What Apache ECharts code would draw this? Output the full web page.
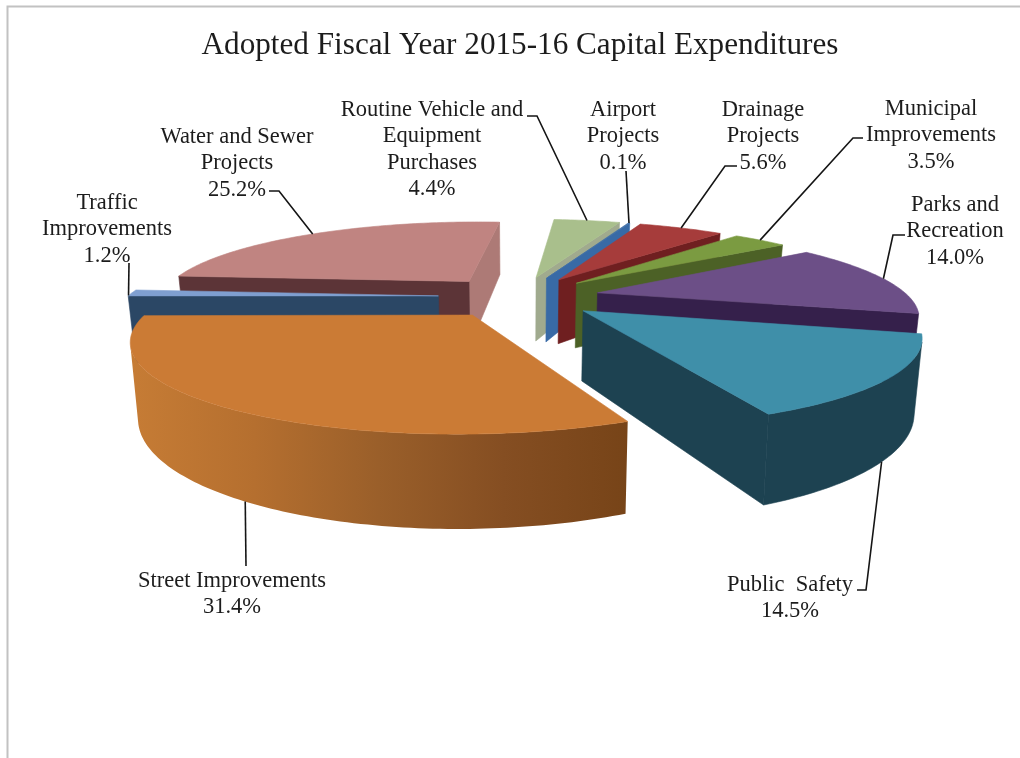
<!DOCTYPE html>
<html>
<head>
<meta charset="utf-8">
<title>Capital Expenditures</title>
<script src="https://cdn.jsdelivr.net/npm/echarts@6/dist/echarts.min.js"></script>
<style>html,body{margin:0;padding:0;background:#fff}#chart{width:1020px;height:758px}</style>
</head>
<body>
<div id="chart"></div>
<script>
// Slices listed clockwise, beginning at the nine o'clock position.
const categories = [
  'Traffic\nImprovements',
  'Water and Sewer\nProjects',
  'Routine Vehicle and\nEquipment\nPurchases',
  'Airport\nProjects',
  'Drainage\nProjects',
  'Municipal\nImprovements',
  'Parks and\nRecreation',
  'Public  Safety',
  'Street Improvements'
];
const shares = [1.2, 25.2, 4.4, 0.1, 5.6, 3.5, 14.0, 14.5, 31.4];

// Far slices are painted first so nearer ones overlap them.
const paintOrder = [1, 0, 2, 3, 4, 5, 6, 8, 7];

const topColors  = ['#7f9fd0', '#c08481', '#a9bf8c', '#3f6fa8', '#a63c3b', '#7b9b41', '#6c4f87', '#3f8fa9', '#cb7b35'];
const cutColors  = ['#2b4765', '#5c3437', '#a0aa8e', '#386aa6', '#6f1f20', '#4c6126', '#35204b', '#1d4251', '#7a4519'];
const endColors  = ['#2b4765', '#ad7a76', '#a0aa8e', '#386aa6', '#6f1f20', '#4c6126', '#35204b', '#1d4251', '#7a4519'];
const rimStops   = [
  ['#2b4765'], ['#5c3437'], ['#a0aa8e'], ['#386aa6'], ['#6f1f20'], ['#4c6126'], ['#35204b'], ['#1d4251'],
  ['#c67c35', '#b56f2f', '#9a5f2a', '#854e22', '#774418']
];

// Label centres (x, first line y) and the bends of their leader lines.
const labelAt = [
  [107, 203], [237, 137], [432, 110], [623, 110], [763, 110], [931, 109], [955, 205], [790, 585], [232, 581]
];
const leaderBends = [
  [[129, 263]],
  [[279, 191], [269, 191]],
  [[537, 116], [527, 116]],
  [[626, 171]],
  [[725, 166], [737, 166]],
  [[853, 138], [863, 138]],
  [[893, 235], [905, 235]],
  [[866, 590], [857, 590]],
  [[246, 566]]
];
// Where each leader meets its slice, as a fraction of the slice's sweep.
const leaderAlong = [0.95, 0.5, 0.5, 0.5, 0.5, 0.5, 0.5, 0.5, 0.511];
// Slices whose leader leaves from the lower edge of the rim.
const leaderFromBase = [false, false, false, false, false, false, false, true, true];

// Ground-plane camera: a unit-radius pie seen in perspective.
const VIEW = { cx: 519, focal: 1306, horizon: -40, height: 1414, depth: 4.2, explode: 0.26, lift: 0.2, taper: 0.02 };

function slices() {
  let angle = 180;
  return shares.map(function (v) {
    const high = angle;
    const low = angle - v * 3.6;
    angle = low;
    return { low: low, high: high, mid: (low + high) / 2 };
  });
}
const wedges = slices();

function rad(d) { return d * Math.PI / 180; }

// Screen position on the top face, for a wedge and polar coordinates on it.
function topPoint(w, theta, r) {
  const X = VIEW.explode * Math.cos(rad(w.mid)) + r * Math.cos(rad(theta));
  const D = VIEW.depth + VIEW.explode * Math.sin(rad(w.mid)) + r * Math.sin(rad(theta));
  return [VIEW.cx + VIEW.focal * X / D, VIEW.horizon + VIEW.height / D];
}
// The matching point on the bottom face.
function basePoint(p) {
  return [p[0] + VIEW.taper * (VIEW.cx - p[0]), p[1] + VIEW.lift * (p[1] - VIEW.horizon)];
}
function facesViewer(quad) {
  let s = 0;
  for (let i = 0; i < quad.length; i++) {
    const a = quad[i], b = quad[(i + 1) % quad.length];
    s += a[0] * b[1] - b[0] * a[1];
  }
  return s > 0;
}
function face(points, fill) {
  return {
    type: 'polygon',
    shape: { points: points },
    style: { fill: fill, stroke: typeof fill === 'string' ? fill : 'none', lineWidth: 0.6 },
    silent: true
  };
}

function renderSlice(params, api) {
  const i = api.value(0);
  const w = wedges[i];
  const apex = topPoint(w, w.mid, 0);
  const arc = [];
  const steps = Math.max(2, Math.ceil(w.high - w.low));
  for (let k = 0; k <= steps; k++) {
    arc.push(topPoint(w, w.low + (w.high - w.low) * k / steps, 1));
  }
  const children = [];

  // Outer curved wall: only the run of arc that faces the viewer.
  const front = [];
  for (let k = 0; k < arc.length - 1; k++) {
    const q = [arc[k], arc[k + 1], basePoint(arc[k + 1]), basePoint(arc[k])];
    if (facesViewer(q)) {
      if (!front.length) front.push(arc[k]);
      front.push(arc[k + 1]);
    }
  }
  if (front.length) {
    const outline = front.concat(front.slice().reverse().map(basePoint));
    const xs = outline.map(function (p) { return p[0]; });
    const stops = rimStops[i];
    const fill = stops.length === 1 ? stops[0] : new echarts.graphic.LinearGradient(
      Math.min.apply(null, xs), 0, Math.max.apply(null, xs), 0,
      stops.map(function (c, n) { return { offset: n / (stops.length - 1), color: c }; }),
      true
    );
    children.push(face(outline, fill));
  }

  // Straight cut walls running from the apex out to the rim.
  const lowWall = [apex, arc[0], basePoint(arc[0]), basePoint(apex)];
  const last = arc[arc.length - 1];
  const highWall = [last, apex, basePoint(apex), basePoint(last)];
  if (facesViewer(lowWall)) children.push(face(lowWall, endColors[i]));
  if (facesViewer(highWall)) children.push(face(highWall, cutColors[i]));

  children.push(face([apex].concat(arc), topColors[i]));
  return { type: 'group', children: children };
}

function renderLabel(params, api) {
  const i = api.value(0);
  const w = wedges[i];
  const rim = topPoint(w, w.low + (w.high - w.low) * leaderAlong[i], 1);
  const start = leaderFromBase[i] ? basePoint(rim) : rim;
  return {
    type: 'group',
    children: [
      {
        type: 'polyline',
        shape: { points: [start].concat(leaderBends[i]) },
        style: { fill: 'none', stroke: '#151515', lineWidth: 1.6 },
        silent: true
      },
      {
        type: 'text',
        x: labelAt[i][0],
        y: labelAt[i][1] - 13,
        style: {
          text: categories[i] + '\n' + shares[i].toFixed(1) + '%',
          font: '22.5px "Liberation Serif"',
          lineHeight: 26.3,
          fill: '#1c1c1c',
          textAlign: 'center',
          textVerticalAlign: 'top'
        },
        silent: true
      }
    ]
  };
}

const chart = echarts.init(document.getElementById('chart'), null, { renderer: 'canvas' });
chart.setOption({
  animation: false,
  backgroundColor: '#ffffff',
  title: {
    text: 'Adopted Fiscal Year 2015-16 Capital Expenditures',
    left: 515,
    top: 25,
    textAlign: 'center',
    textStyle: { fontFamily: 'Liberation Serif', fontWeight: 'normal', fontSize: 31.2, color: '#1c1c1c' }
  },
  graphic: [
    {
      type: 'polyline',
      shape: { points: [[7.5, 758], [7.5, 6.5], [1020, 6.5]] },
      style: { fill: 'none', stroke: '#c2c2c2', lineWidth: 2 },
      silent: true
    }
  ],
  series: [
    {
      type: 'custom',
      coordinateSystem: 'none',
      renderItem: renderSlice,
      clip: false,
      silent: true,
      z: 2,
      data: paintOrder
    },
    {
      type: 'custom',
      coordinateSystem: 'none',
      renderItem: renderLabel,
      clip: false,
      silent: true,
      z: 3,
      data: categories.map(function (_, i) { return i; })
    }
  ]
});
</script>
</body>
</html>
